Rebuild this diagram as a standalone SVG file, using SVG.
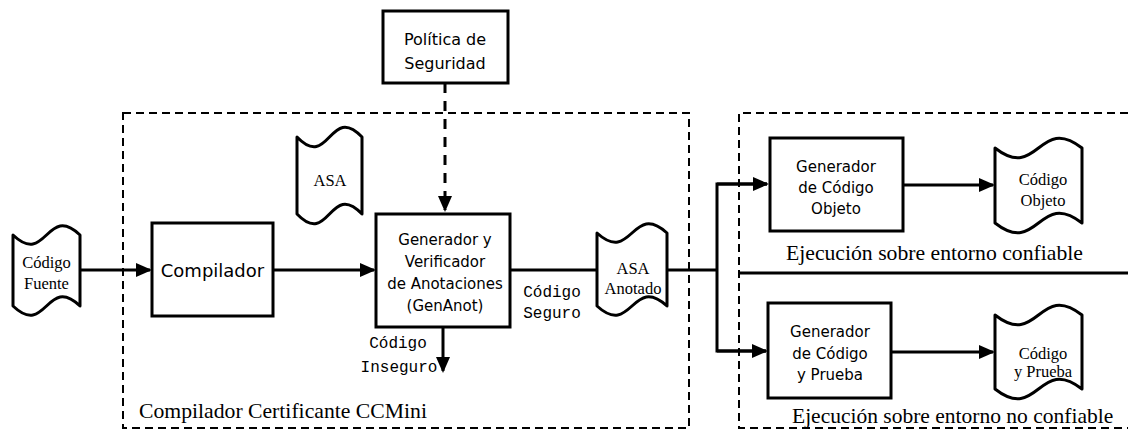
<svg xmlns="http://www.w3.org/2000/svg" width="1128" height="430" viewBox="0 0 1128 430">
<defs>
<style>
.box{fill:#fff;stroke:#000;stroke-width:3}
.tape{fill:#fff;stroke:#000;stroke-width:3;stroke-linejoin:round}
.frame{fill:none;stroke:#000;stroke-width:2;stroke-dasharray:8 5}
.conn{fill:none;stroke:#000;stroke-width:3}
.dconn{fill:none;stroke:#000;stroke-width:3;stroke-dasharray:10 8}
.sans{font-family:"DejaVu Sans","Bitstream Vera Sans",sans-serif;fill:#000;text-anchor:middle}
.serif{font-family:"Liberation Serif","Times New Roman",serif;fill:#000}
.mono{font-family:"Liberation Mono","Courier New",monospace;font-size:16px;fill:#000;text-anchor:middle}
</style>
<marker id="arrow" markerUnits="userSpaceOnUse" markerWidth="16" markerHeight="14" refX="14" refY="7" orient="auto">
<path d="M0,0 L16,7 L0,14 Z" fill="#000"/>
</marker>
</defs>
<rect width="1128" height="430" fill="#fff"/>

<g id="frames">
<rect class="frame" x="123" y="113" width="566" height="315"/>
<path class="frame" d="M1128,113 H739 V428 H1128"/>
<line x1="739" y1="273" x2="1128" y2="273" stroke="#000" stroke-width="3"/>
<text class="serif" x="139" y="418" font-size="21.7">Compilador Certificante CCMini</text>
<text class="serif" x="786" y="260" font-size="21.7">Ejecución sobre entorno confiable</text>
<text class="serif" x="792" y="423" font-size="21.5">Ejecución sobre entorno no confiable</text>
</g>

<g id="connectors">
<line class="dconn" x1="445" y1="83" x2="445" y2="210" marker-end="url(#arrow)"/>
<line class="conn" x1="80" y1="270" x2="150" y2="270" marker-end="url(#arrow)"/>
<line class="conn" x1="273" y1="270" x2="374" y2="270" marker-end="url(#arrow)"/>
<line class="conn" x1="510" y1="270" x2="597" y2="270"/>
<line class="conn" x1="443" y1="327" x2="443" y2="371" marker-end="url(#arrow)"/>
<path class="conn" d="M667,270 H717"/>
<path class="conn" d="M767,184 H717 V351 H766"/>
<line class="conn" x1="717" y1="184" x2="767" y2="184" marker-end="url(#arrow)"/>
<line class="conn" x1="717" y1="351" x2="766" y2="351" marker-end="url(#arrow)"/>
<line class="conn" x1="903" y1="185" x2="993" y2="185" marker-end="url(#arrow)"/>
<line class="conn" x1="891" y1="352" x2="993" y2="352" marker-end="url(#arrow)"/>
<text class="mono" x="552" y="297">Código</text>
<text class="mono" x="552" y="318">Seguro</text>
<text class="mono" x="398" y="348">Código</text>
<text class="mono" x="399" y="372">Inseguro</text>
</g>

<g id="politica">
<rect class="box" x="383" y="11" width="125" height="72"/>
<text class="sans" x="445" y="45" font-size="16">Política de</text>
<text class="sans" x="445" y="69" font-size="16">Seguridad</text>
</g>

<g id="codigo-fuente">
<path class="tape" d="M13,235 C46.5,267 46.5,203 80,235 L80,306 C46.5,274 46.5,338 13,306 Z"/>
<text class="serif" x="46.5" y="268" font-size="16.5" text-anchor="middle">Código</text>
<text class="serif" x="46.5" y="289" font-size="16.5" text-anchor="middle">Fuente</text>
</g>

<g id="compilador">
<rect class="box" x="152" y="223" width="121" height="93"/>
<text class="sans" x="212.5" y="277" font-size="18">Compilador</text>
</g>

<g id="asa">
<path class="tape" d="M297,137 C329.5,171 329.5,103 362,137 L362,214 C329.5,180 329.5,248 297,214 Z"/>
<text class="serif" x="330" y="186" font-size="16.5" text-anchor="middle">ASA</text>
</g>

<g id="genanot">
<rect class="box" x="376" y="214" width="134" height="113"/>
<text class="sans" x="445" y="245" font-size="15">Generador y</text>
<text class="sans" x="445" y="267" font-size="15">Verificador</text>
<text class="sans" x="445" y="289" font-size="15">de Anotaciones</text>
<text class="sans" x="445" y="311" font-size="15">(GenAnot)</text>
</g>

<g id="asa-anotado">
<path class="tape" d="M597,233 C632,265 632,201 667,233 L667,306 C632,274 632,338 597,306 Z"/>
<text class="serif" x="633" y="274" font-size="16.5" text-anchor="middle">ASA</text>
<text class="serif" x="633" y="294" font-size="16.5" text-anchor="middle">Anotado</text>
</g>

<g id="gen-objeto">
<rect class="box" x="770" y="138" width="133" height="93"/>
<text class="sans" x="836" y="172" font-size="15">Generador</text>
<text class="sans" x="836" y="193" font-size="15">de Código</text>
<text class="sans" x="836" y="214" font-size="15">Objeto</text>
</g>

<g id="codigo-objeto">
<path class="tape" d="M995,148 C1038.5,182 1038.5,114 1082,148 L1082,223 C1038.5,189 1038.5,257 995,223 Z"/>
<text class="serif" x="1043" y="185" font-size="16.5" text-anchor="middle">Código</text>
<text class="serif" x="1043" y="206" font-size="16.5" text-anchor="middle">Objeto</text>
</g>

<g id="gen-prueba">
<rect class="box" x="768" y="303" width="123" height="95"/>
<text class="sans" x="830" y="337" font-size="15">Generador</text>
<text class="sans" x="830" y="359" font-size="15">de Código</text>
<text class="sans" x="830" y="380" font-size="15">y Prueba</text>
</g>

<g id="codigo-prueba">
<path class="tape" d="M995,315 C1038.5,349 1038.5,281 1082,315 L1082,389 C1038.5,355 1038.5,423 995,389 Z"/>
<text class="serif" x="1043" y="359" font-size="16.5" text-anchor="middle">Código</text>
<text class="serif" x="1043" y="377" font-size="16.5" text-anchor="middle">y Prueba</text>
</g>
</svg>
